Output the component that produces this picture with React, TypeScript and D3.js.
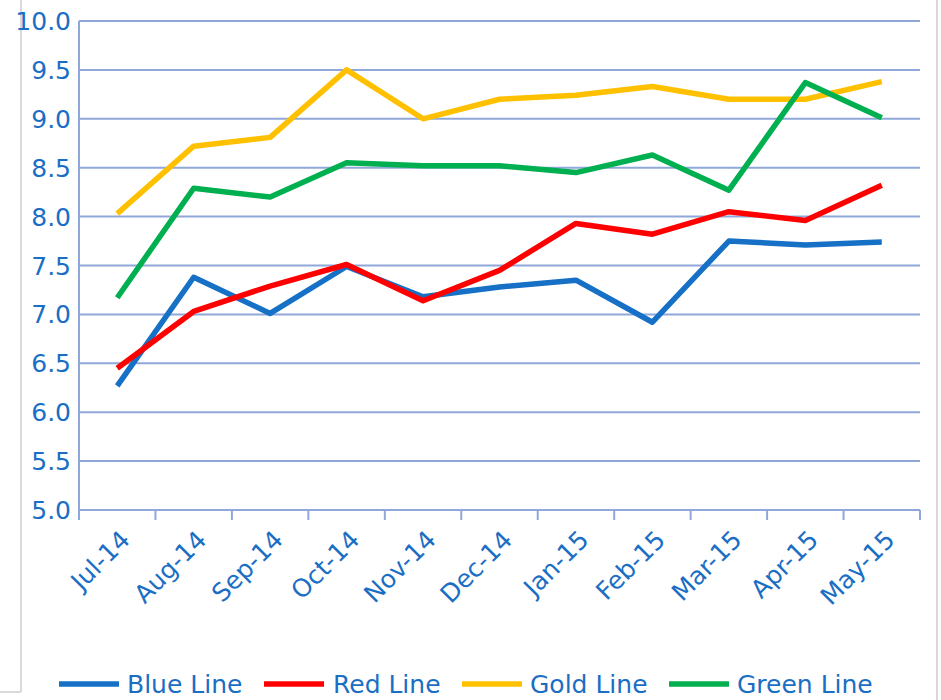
import React from "react";
import * as d3 from "d3";

// chart data
const months = ["Jul-14", "Aug-14", "Sep-14", "Oct-14", "Nov-14", "Dec-14", "Jan-15", "Feb-15", "Mar-15", "Apr-15", "May-15"];
const blueLine = [6.27, 7.38, 7.01, 7.49, 7.18, 7.28, 7.35, 6.92, 7.75, 7.71, 7.74];
const redLine = [6.45, 7.03, 7.29, 7.51, 7.14, 7.45, 7.93, 7.82, 8.05, 7.96, 8.32];
const goldLine = [8.03, 8.72, 8.81, 9.5, 9.0, 9.2, 9.24, 9.33, 9.2, 9.2, 9.38];
const greenLine = [7.17, 8.29, 8.2, 8.55, 8.52, 8.52, 8.45, 8.63, 8.27, 9.37, 9.01];
const yTicks = [5, 5.5, 6, 6.5, 7, 7.5, 8, 8.5, 9, 9.5, 10];

const seriesList = [
  { name: "Blue Line", values: blueLine, color: "#1570C6" },
  { name: "Red Line", values: redLine, color: "#FF0000" },
  { name: "Gold Line", values: goldLine, color: "#FFC000" },
  { name: "Green Line", values: greenLine, color: "#00B050" },
];

const W = 941;
const H = 700;
const margin = { top: 21, right: 21, bottom: 190, left: 79 };
const textColor = "#1A6EC4";
const gridColor = "#8FA7D9";
const font = "DejaVu Sans, Verdana, sans-serif";

export default function App() {
  const x = d3
    .scaleBand()
    .domain(months)
    .range([margin.left, W - margin.right]);
  const y = d3
    .scaleLinear()
    .domain([5, 10])
    .range([H - margin.bottom, margin.top]);

  const line = d3
    .line<number>()
    .x((d, i) => (x(months[i]) as number) + x.bandwidth() / 2)
    .y((d) => y(d));

  const bottom = y(5);
  // tick marks on band boundaries
  const xTickPos = months.map((m) => x(m) as number).concat([x.range()[1]]);

  // legend layout
  const legendY = 684;
  const legendItems = [
    { sx: 59, tx: 127 },
    { sx: 264, tx: 333 },
    { sx: 462, tx: 530 },
    { sx: 669, tx: 737 },
  ];

  return (
    <svg
      width={W}
      height={H}
      style={{ position: "absolute", left: 0, top: 0, background: "#fff" }}
      fontFamily={font}
    >
      {/* frame bits */}
      <line x1={21} x2={21} y1={0} y2={692} stroke="#D9D9D9" strokeWidth={2} />
      <line x1={0} x2={21} y1={692} y2={692} stroke="#D9D9D9" strokeWidth={2} />
      <line x1={937} x2={937} y1={0} y2={H} stroke="#D9D9D9" strokeWidth={2} />

      {/* grid lines */}
      {yTicks.map((t) => (
        <line
          key={t}
          x1={margin.left}
          x2={W - margin.right}
          y1={y(t)}
          y2={y(t)}
          stroke={gridColor}
          strokeWidth={2}
        />
      ))}
      {/* y axis */}
      <line x1={margin.left} x2={margin.left} y1={margin.top} y2={bottom + 10} stroke={gridColor} strokeWidth={2} />
      {xTickPos.map((p, i) => (
        <line key={i} x1={p} x2={p} y1={bottom} y2={bottom + 10} stroke={gridColor} strokeWidth={2} />
      ))}
      {yTicks.map((t) => (
        <text
          key={t}
          x={71}
          y={y(t)}
          dy="0.36em"
          textAnchor="end"
          fontSize={25}
          fill={textColor}
        >
          {t.toFixed(1)}
        </text>
      ))}
      {months.map((m) => {
        const cx = (x(m) as number) + x.bandwidth() / 2;
        return (
          <text
            key={m}
            transform={`translate(${cx + 2},${bottom + 19}) rotate(-45)`}
            textAnchor="end"
            dy="0.7em"
            fontSize={25}
            fill={textColor}
          >
            {m}
          </text>
        );
      })}

      {/* series */}
      {seriesList.map((s) => (
        <path
          key={s.name}
          d={line(s.values) as string}
          fill="none"
          stroke={s.color}
          strokeWidth={5.5}
          strokeLinejoin="round"
        />
      ))}

      {/* legend */}
      {seriesList.map((s, i) => (
        <g key={s.name}>
          <line
            x1={legendItems[i].sx}
            x2={legendItems[i].sx + 60}
            y1={legendY}
            y2={legendY}
            stroke={s.color}
            strokeWidth={5.5}
          />
          <text x={legendItems[i].tx} y={legendY} dy="0.36em" fontSize={25} fill={textColor}>
            {s.name}
          </text>
        </g>
      ))}
    </svg>
  );
}
